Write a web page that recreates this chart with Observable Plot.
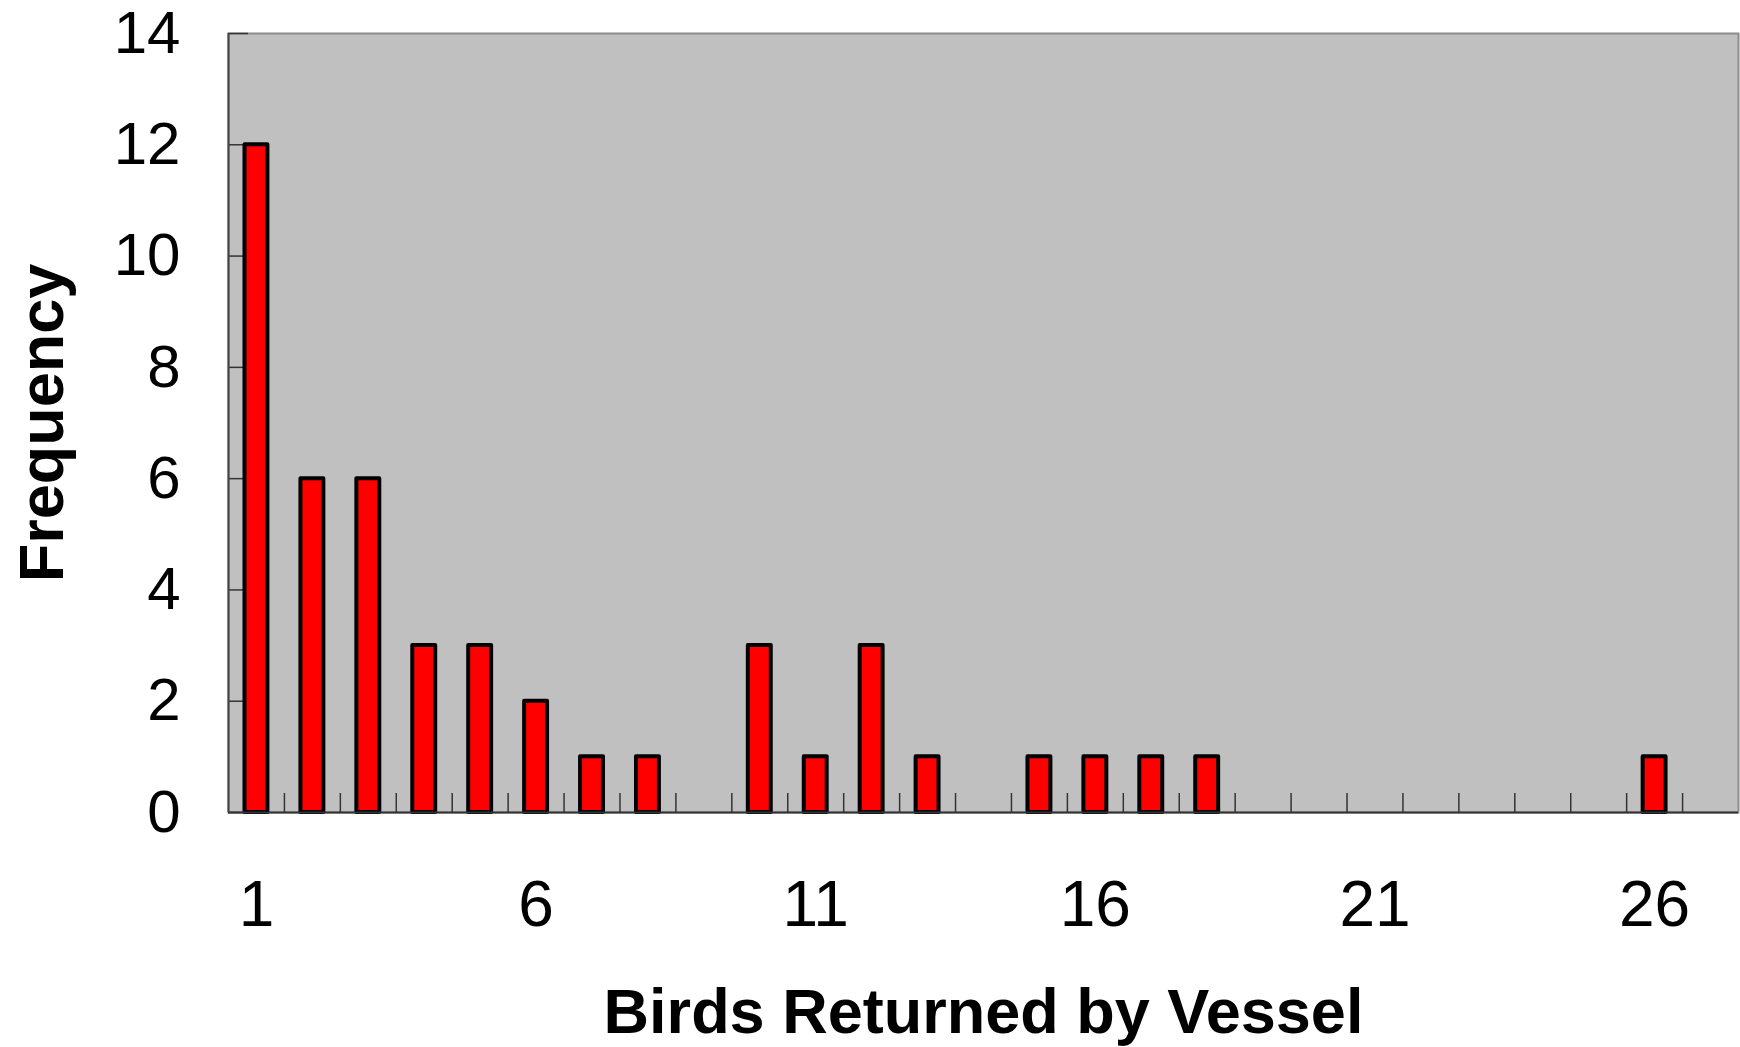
<!DOCTYPE html>
<html>
<head>
<meta charset="utf-8">
<script src="https://cdn.jsdelivr.net/npm/d3@7"></script>
<script src="https://cdn.jsdelivr.net/npm/@observablehq/plot@0.6"></script>
<style>
  html, body { margin: 0; padding: 0; background: #ffffff; }
  #chart { width: 1740px; height: 1047px; }
  #chart svg { overflow: visible; }
</style>
</head>
<body>
<div id="chart"></div>
<script>
// Data
const birdsReturned = [1,2,3,4,5,6,7,8,9,10,11,12,13,14,15,16,17,18,19,20,21,22,23,24,25,26,27];
const frequency     = [12,6,6,3,3,2,1,1,0,3,1,3,1,0,1,1,1,1,0,0,0,0,0,0,0,1,0];
const xTickLabels = [1, 6, 11, 16, 21, 26];
const yTickValues = [0, 2, 4, 6, 8, 10, 12, 14];
const xTitle = "Birds Returned by Vessel";
const yTitle = "Frequency";

const data = birdsReturned.map((b, i) => ({b, f: frequency[i]}));
const nonzero = data.filter(d => d.f > 0);

const W = 1740, H = 1047;
const mL = 228, mR = 2, mT = 33, mB = 235;
const plotW = W - mL - mR, plotH = H - mT - mB;
const step = plotW / birdsReturned.length;

const font = "'Liberation Sans', Arial, Helvetica, sans-serif";

const chart = Plot.plot({
  width: W,
  height: H,
  marginLeft: mL,
  marginRight: mR,
  marginTop: mT,
  marginBottom: mB,
  style: {fontFamily: font, color: "#000", background: "#fff"},
  x: {type: "band", domain: birdsReturned, padding: 0, round: false},
  y: {domain: [0, 14]},
  marks: [
    Plot.frame({fill: "#c0c0c0", stroke: "#8c8c8c", strokeWidth: 2}),
    // inward category boundary ticks on x axis
    Plot.tickX(birdsReturned.slice(1), {x: d => d, dx: -step / 2, insetTop: plotH - 19, stroke: "#333", strokeWidth: 1.5}),
    // inward ticks on y axis
    Plot.tickY(yTickValues, {y: d => d, insetRight: plotW - 20, stroke: "#333", strokeWidth: 1.5}),
    Plot.barY(nonzero, {x: "b", y: "f", fill: "#ff0000", stroke: "#000", strokeWidth: 4, strokeLinejoin: "round", insetLeft: 16.5, insetRight: 16.5}),
    // axis lines
    Plot.ruleY([0], {stroke: "#333", strokeWidth: 2}),
    Plot.ruleX([birdsReturned[0]], {x: d => d, dx: -step / 2, stroke: "#444", strokeWidth: 2}),
    Plot.axisX({ticks: xTickLabels, tickSize: 0, tickPadding: 68, fontSize: 64, label: null}),
    Plot.axisY({ticks: yTickValues, tickSize: 0, tickPadding: 48, fontSize: 60, label: null}),
    Plot.text([xTitle], {frameAnchor: "bottom", lineAnchor: "top", dy: 176, fontSize: 63, fontWeight: "bold", fill: "#000"}),
    Plot.text([yTitle], {frameAnchor: "left", textAnchor: "middle", lineAnchor: "top", rotate: -90, dx: -210, fontSize: 63, fontWeight: "bold", fill: "#000"})
  ]
});
document.getElementById("chart").appendChild(chart);
</script>
</body>
</html>
